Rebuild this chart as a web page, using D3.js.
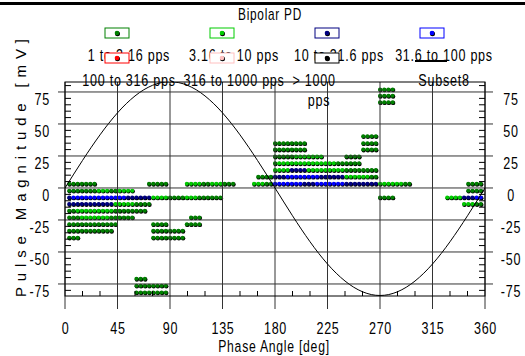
<!DOCTYPE html>
<html>
<head>
<meta charset="utf-8">
<script src="https://cdn.jsdelivr.net/npm/d3@7"></script>
<style>
  body { margin: 0; background: #fff; }
  svg text {
    font-family: "Liberation Sans", Arial, sans-serif;
    fill: #000;
  }
</style>
</head>
<body>
<div id="chart"></div>
<script>
const rateClasses = [
  "1 to 3.16 pps", "3.16 to 10 pps", "10 to 31.6 pps", "31.6 to 100 pps",
  "100 to 316 pps", "316 to 1000 pps", "> 1000 pps"
];
const rateColors = ["#008000", "#00cc00", "#000080", "#0000ff", "#ff0000", "#ffc0c0", "#000000"];
const phaseTicks = [0, 45, 90, 135, 180, 225, 270, 315, 360];
const magTicks = [-75, -50, -25, 0, 25, 50, 75];
const binWidth = 3.6; // phase resolution of the pattern [deg]

// runs of occupied cells: [magnitude mV, first phase, last phase]
const pps1to316 = [
  [77, 270, 280.8], [72, 270, 280.8], [67, 270, 280.8],
  [40.5, 255.6, 266.4],
  [35, 180, 205.2], [35, 255.6, 266.4],
  [30, 180, 205.2], [30, 255.6, 266.4],
  [24.5, 180, 194.4], [24.5, 241.2, 252],
  [19.3, 180, 180], [19.3, 234, 252],
  [14, 241.2, 266.4],
  [8.8, 165.6, 176.4], [8.8, 262.8, 266.4],
  [3.3, 3.6, 25.2], [3.3, 72, 86.4], [3.3, 118.8, 122.4], [3.3, 136.8, 144],
  [3.3, 172.8, 176.4], [3.3, 291.6, 295.2], [3.3, 345.6, 356.4],
  [-2.1, 3.6, 25.2], [-2.1, 39.6, 43.2], [-2.1, 345.6, 356.4],
  [-7.4, 90, 100.8], [-7.4, 115.2, 133.2], [-7.4, 270, 280.8],
  [-12.6, 61.2, 72], [-12.6, 352.8, 356.4],
  [-17.8, 3.6, 7.2], [-17.8, 43.2, 68.4],
  [-23, 3.6, 10.8], [-23, 39.6, 57.6], [-23, 108, 115.2],
  [-28.3, 3.6, 43.2], [-28.3, 75.6, 86.4], [-28.3, 104.4, 115.2],
  [-33.5, 3.6, 39.6], [-33.5, 75.6, 100.8],
  [-38.8, 3.6, 10.8], [-38.8, 75.6, 100.8],
  [-71, 61.2, 68.4], [-76.3, 61.2, 86.4], [-81.6, 61.2, 86.4]
];
const pps316to10 = [
  [24.5, 198, 219.6],
  [19.3, 183.6, 230.4],
  [14, 180, 190.8], [14, 208.8, 237.6],
  [8.8, 241.2, 259.2],
  [3.3, 104.4, 115.2], [3.3, 126, 133.2], [3.3, 162, 169.2], [3.3, 270, 288],
  [-2.1, 28.8, 36], [-2.1, 46.8, 57.6],
  [-7.4, 75.6, 86.4], [-7.4, 104.4, 111.6], [-7.4, 327.6, 338.4],
  [-12.6, 43.2, 57.6], [-12.6, 342, 349.2],
  [-17.8, 10.8, 39.6],
  [-23, 14.4, 36]
];
const pps10to316 = [
  [14, 194.4, 205.2],
  [8.8, 180, 187.2], [8.8, 219.6, 237.6],
  [3.3, 205.2, 212.4], [3.3, 241.2, 266.4],
  [-7.4, 3.6, 3.6], [-7.4, 54, 72], [-7.4, 342, 349.2],
  [-12.6, 3.6, 39.6]
];
const pps316to100 = [
  [8.8, 190.8, 216],
  [3.3, 180, 201.6], [3.3, 216, 237.6],
  [-7.4, 7.2, 50.4], [-7.4, 352.8, 356.4]
];
const patternRuns = [pps1to316, pps316to10, pps10to316, pps316to100];

// reference sine (Subset8)
const sinePhase = [0, 15, 30, 45, 60, 75, 90, 105, 120, 135, 150, 165, 180,
  195, 210, 225, 240, 255, 270, 285, 300, 315, 330, 345, 360];
const sineMv = [0, 21.5, 41.5, 58.7, 71.9, 80.2, 83, 80.2, 71.9, 58.7, 41.5, 21.5, 0,
  -21.7, -42, -59.4, -72.7, -81.1, -84, -81.1, -72.7, -59.4, -42, -21.7, 0];

const width = 525;
const height = 356;
const plot = { left: 65, right: 485, top: 82, bottom: 296 };
const squeeze = 0.74; // narrow lettering of the original

const svg = d3.select("#chart")
  .append("svg")
  .attr("width", width)
  .attr("height", height);

const x = d3.scaleLinear().domain([0, 360]).range([plot.left, plot.right]);
const y = d3.scaleLinear().domain([-84.4, 82.8]).range([plot.bottom, plot.top]);

// move x/y into a transform so the glyphs can be narrowed
function condense(sel) {
  sel.each(function () {
    const t = d3.select(this);
    const tx = +t.attr("x") || 0;
    const ty = +t.attr("y") || 0;
    t.attr("x", null)
      .attr("y", null)
      .attr("letter-spacing", "1px")
      .attr("transform", `translate(${tx},${ty}) scale(${squeeze},1)`);
  });
}

function label(g, tx, ty, str, anchor, size) {
  return g.append("text")
    .attr("x", tx).attr("y", ty)
    .attr("text-anchor", anchor)
    .attr("font-size", size)
    .text(str)
    .call(condense);
}

// top rule
svg.append("rect")
  .attr("x", 0).attr("y", 2)
  .attr("width", width).attr("height", 3)
  .attr("fill", "#000");

// title
label(svg, 270, 20, "Bipolar PD", "middle", "16px");

// pattern dots
const cells = [];
patternRuns.forEach((runs, ci) => {
  runs.forEach(([mag, p0, p1]) => {
    for (let p = p0; p <= p1 + 0.01; p += binWidth) {
      cells.push({ phase: p, mag: mag, cls: ci });
    }
  });
});

const dots = svg.append("g");
dots.selectAll(".shadow")
  .data(cells)
  .join("circle")
  .attr("class", "shadow")
  .attr("cx", (d) => x(d.phase) + 0.5)
  .attr("cy", (d) => y(d.mag) + 0.7)
  .attr("r", 2.2)
  .attr("fill", "#000");
dots.selectAll(".dot")
  .data(cells)
  .join("circle")
  .attr("class", "dot")
  .attr("cx", (d) => x(d.phase))
  .attr("cy", (d) => y(d.mag))
  .attr("r", 2)
  .attr("fill", (d) => rateColors[d.cls]);

// grid lines (they also act as the major ticks)
svg.append("g")
  .selectAll("line")
  .data(magTicks)
  .join("line")
  .attr("x1", plot.left - 7)
  .attr("x2", plot.right + 8)
  .attr("y1", (d) => y(d))
  .attr("y2", (d) => y(d))
  .attr("stroke", "#333");

svg.append("g")
  .selectAll("line")
  .data(phaseTicks)
  .join("line")
  .attr("x1", (d) => x(d))
  .attr("x2", (d) => x(d))
  .attr("y1", plot.top)
  .attr("y2", plot.bottom + 13)
  .attr("stroke", "#333");

// minor ticks
const magMinor = d3.range(-80, 81, 5).filter((d) => d % 25 !== 0);
const phaseMinor = d3.range(0, 361, 15).filter((d) => d % 45 !== 0);
const minor = svg.append("g").attr("stroke", "#000");
minor.selectAll(".ml")
  .data(magMinor)
  .join("line")
  .attr("class", "ml")
  .attr("x1", plot.left).attr("x2", plot.left + 6)
  .attr("y1", (d) => y(d)).attr("y2", (d) => y(d));
minor.selectAll(".mr")
  .data(magMinor)
  .join("line")
  .attr("class", "mr")
  .attr("x1", plot.right - 6).attr("x2", plot.right)
  .attr("y1", (d) => y(d)).attr("y2", (d) => y(d));
minor.selectAll(".mb")
  .data(phaseMinor)
  .join("line")
  .attr("class", "mb")
  .attr("x1", (d) => x(d)).attr("x2", (d) => x(d))
  .attr("y1", plot.bottom - 5).attr("y2", plot.bottom);

// sine line
const line = d3.line()
  .x((d, i) => x(sinePhase[i]))
  .y((d) => y(d))
  .curve(d3.curveNatural);

svg.append("clipPath")
  .attr("id", "plot-clip")
  .append("rect")
  .attr("x", plot.left).attr("y", plot.top)
  .attr("width", plot.right - plot.left)
  .attr("height", plot.bottom - plot.top);

svg.append("path")
  .datum(sineMv)
  .attr("clip-path", "url(#plot-clip)")
  .attr("fill", "none")
  .attr("stroke", "#000")
  .attr("stroke-width", 1)
  .attr("d", line);

// frame
svg.append("rect")
  .attr("x", plot.left).attr("y", plot.top)
  .attr("width", plot.right - plot.left)
  .attr("height", plot.bottom - plot.top)
  .attr("fill", "none")
  .attr("stroke", "#000");

// axes (labels only, lines come from grid)
const fmt = (d) => String(d);

svg.append("g")
  .attr("transform", `translate(0,${plot.bottom})`)
  .call(d3.axisBottom(x).tickValues(phaseTicks).tickFormat(fmt).tickSize(0).tickPadding(26))
  .call((g) => g.select(".domain").remove())
  .call((g) => g.selectAll("text").attr("font-size", "17px").call(condense));

svg.append("g")
  .attr("transform", `translate(${plot.left},0)`)
  .call(d3.axisLeft(y).tickValues(magTicks).tickFormat(fmt).tickSize(0).tickPadding(15))
  .call((g) => g.select(".domain").remove())
  .call((g) => g.selectAll("text").attr("y", 7).attr("font-size", "17px").call(condense));

svg.append("g")
  .attr("transform", `translate(${plot.right},0)`)
  .call(d3.axisRight(y).tickValues(magTicks).tickFormat(fmt).tickSize(0))
  .call((g) => g.select(".domain").remove())
  .call((g) => g.selectAll("text")
    .attr("x", 26).attr("y", 7)
    .attr("text-anchor", "middle")
    .attr("font-size", "17px")
    .call(condense));

// axis titles
label(svg, 274, 352, "Phase Angle [deg]", "middle", "16.5px");

svg.append("text")
  .attr("transform", "translate(26,168) rotate(-90)")
  .attr("text-anchor", "middle")
  .attr("font-size", "15px")
  .attr("textLength", 258)
  .attr("lengthAdjust", "spacing")
  .text("Pulse Magnitude [mV]");

// legend
const legend = svg.append("g");
const legendItems = rateClasses.concat(["Subset8"]);
legendItems.forEach((name, i) => {
  const col = i % 4;
  const row = Math.floor(i / 4);
  const cx = 117 + col * 105;
  const cy = 33 + row * 25;
  if (i < rateClasses.length) {
    legend.append("rect")
      .attr("x", cx - 12).attr("y", cy - 5)
      .attr("width", 24).attr("height", 10)
      .attr("fill", "#fff")
      .attr("stroke", rateColors[i]);
    legend.append("circle")
      .attr("cx", cx + 0.5).attr("cy", cy + 0.7)
      .attr("r", 2.5).attr("fill", "#000");
    legend.append("circle")
      .attr("cx", cx).attr("cy", cy)
      .attr("r", 2.3).attr("fill", rateColors[i]);
  } else {
    legend.append("line")
      .attr("x1", cx - 17).attr("x2", cx + 15)
      .attr("y1", cy + 3).attr("y2", cy + 3)
      .attr("stroke", "#000").attr("stroke-width", 2);
  }
  if (name === "> 1000 pps") {
    label(legend, cx - 13, cy + 28, "> 1000", "middle", "17px");
    label(legend, cx - 8, cy + 48, "pps", "middle", "17px");
  } else {
    label(legend, cx + 12, cy + 27.5, name, "middle", "17px");
  }
});
</script>
</body>
</html>
